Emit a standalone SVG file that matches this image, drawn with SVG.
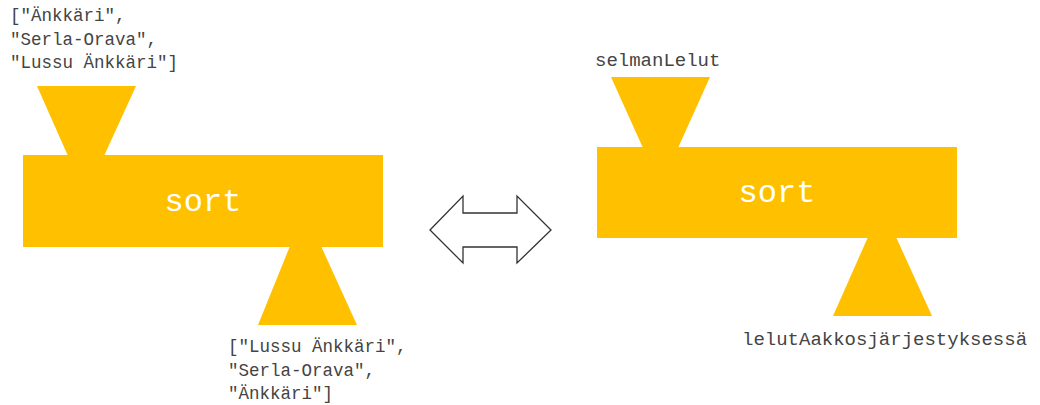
<svg xmlns="http://www.w3.org/2000/svg" width="1040" height="405" viewBox="0 0 1040 405">
  <style>
    .body { fill: #FFC000; }
    .op { font-family: "Liberation Mono", monospace; font-size: 32px; fill: #ffffff; text-anchor: middle; }
    .data { font-family: "Liberation Mono", monospace; font-size: 17.5px; fill: #444444; }
    .name { font-family: "Liberation Mono", monospace; font-size: 19px; fill: #444444; }
    .swap { fill: #ffffff; stroke: #333333; stroke-width: 1.3; stroke-linejoin: miter; }
  </style>

  <!-- sort machine fed with literal values -->
  <g id="sort-literal">
    <polygon class="body" points="37,86 136,86 104,156 68,156"/>
    <rect class="body" x="23" y="155" width="360" height="92"/>
    <polygon class="body" points="290,246 321,246 357,325 258,325"/>
    <text class="op" x="203" y="211">sort</text>
    <text class="data" x="10" y="21">["Änkkäri",</text>
    <text class="data" x="10" y="45">"Serla-Orava",</text>
    <text class="data" x="10" y="68">"Lussu Änkkäri"]</text>
    <text class="data" x="228" y="352">["Lussu Änkkäri",</text>
    <text class="data" x="228" y="376">"Serla-Orava",</text>
    <text class="data" x="228" y="399">"Änkkäri"]</text>
  </g>

  <!-- equivalence arrow -->
  <g id="connectors">
    <polygon class="swap" points="430,230 463,196 463,213 517,213 517,196 551,230 517,263 517,247 463,247 463,263"/>
  </g>

  <!-- sort machine fed with named variables -->
  <g id="sort-named">
    <polygon class="body" points="611,77 710,77 678,148 643,148"/>
    <rect class="body" x="597" y="147" width="360" height="91"/>
    <polygon class="body" points="868,237 896,237 932,316 833,316"/>
    <text class="op" x="777" y="202">sort</text>
    <text class="name" x="595" y="66">selmanLelut</text>
    <text class="name" x="742" y="345">lelutAakkosjärjestyksessä</text>
  </g>
</svg>
